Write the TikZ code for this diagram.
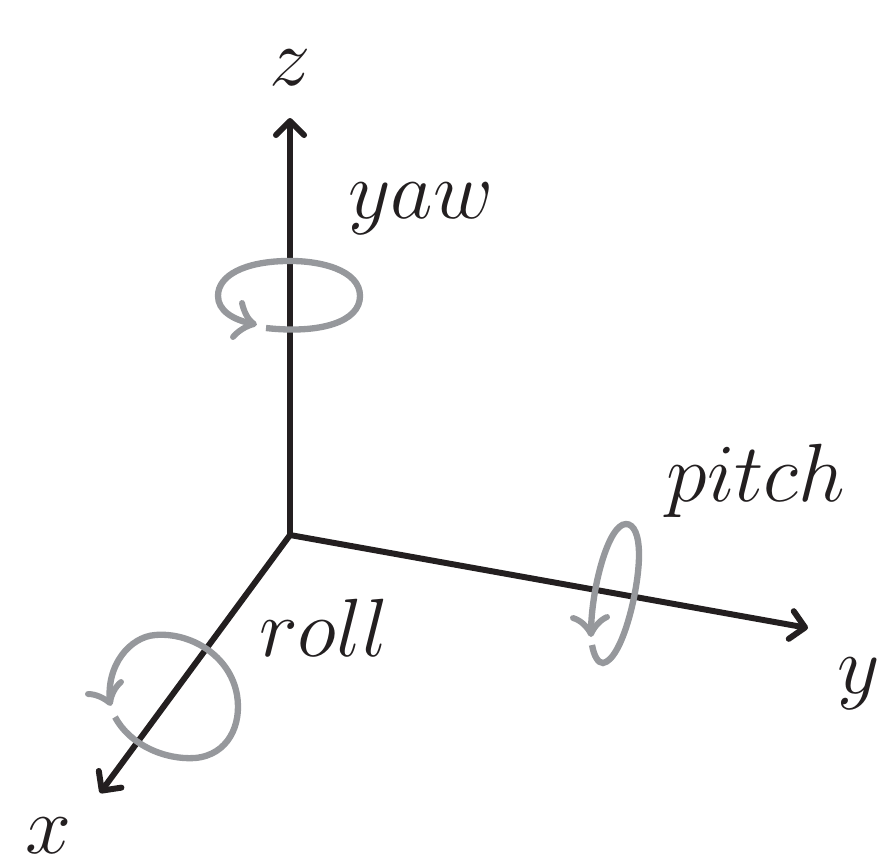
\documentclass[tikz,border=0pt]{standalone}
\usepackage{fix-cm}
\usepackage{xcolor}
\usetikzlibrary{arrows.meta}
\definecolor{cG}{RGB}{150,152,156}
\definecolor{cK}{RGB}{35,31,32}
\tikzset{
    axis/.style={line width=3.4pt, cK, line join=round, -{Straight Barb[length=8pt,width=16pt,line width=3.4pt,round]}},
    turn/.style={line width=3.6pt, cG},
    barb/.style={line width=3.4pt, cG, line cap=round, line join=round},
    label/.style={inner sep=0pt, cK, font=\fontsize{47}{47}\selectfont}
}
\begin{document}
\begin{tikzpicture}[x=0.02cm,y=-0.02cm]
    \useasboundingbox (0,0) rectangle (878,860);
    % Axes
    \coordinate (origin) at (290,535);
    \coordinate (xend) at (100,793);
    \coordinate (yend) at (808,628);
    \coordinate (zend) at (290,118);
    \draw[axis] (origin) -- (xend);
    \draw[axis] (origin) -- (yend);
    \draw[axis] (origin) -- (zend);

    % Labels
    \node[label] (zlabel) at (290,68) {$z$};
    \node[label] (ylabel) at (859,684) {$y$};
    \node[label] (xlabel) at (48,836) {$x$};
    \node[label] (yawlabel) at (421,209) {$yaw$};
    \node[label] (pitchlabel) at (756,481) {$pitch$};
    \node[label] (rolllabel) at (324,628) {$roll$};

    % Yaw
    \draw[turn] (266,328) .. controls (320,334) and (360,322) .. (360,296)
        .. controls (360,270) and (320,260) .. (285,261)
        .. controls (245,262) and (218,275) .. (218,296)
        .. controls (218,310) and (232,320) .. (254,324);
    \draw[barb] (242,303) .. controls (244,312) and (248,320) .. (254,324) .. controls (246,326) and (238,331) .. (233,337);

    % Pitch
    \draw[turn] (592,645) .. controls (594,656) and (598,663) .. (603,663)
        .. controls (622,660) and (639,590) .. (639,555)
        .. controls (639,535) and (634,524) .. (626,524)
        .. controls (608,524) and (591,590) .. (591,633);
    \draw[barb] (573,618) .. controls (580,620) and (587,626) .. (591,634) .. controls (594,627) and (600,620) .. (607,617);

    % Roll
    \draw[turn] (115,717) .. controls (130,745) and (165,760) .. (195,758)
        .. controls (228,755) and (242,725) .. (237,695)
        .. controls (230,655) and (190,632) .. (155,635)
        .. controls (130,637) and (106,665) .. (110,702);
    \draw[barb] (88,694) .. controls (96,694) and (104,698) .. (110,703) .. controls (111,695) and (115,687) .. (121,682);
\end{tikzpicture}
\end{document}
